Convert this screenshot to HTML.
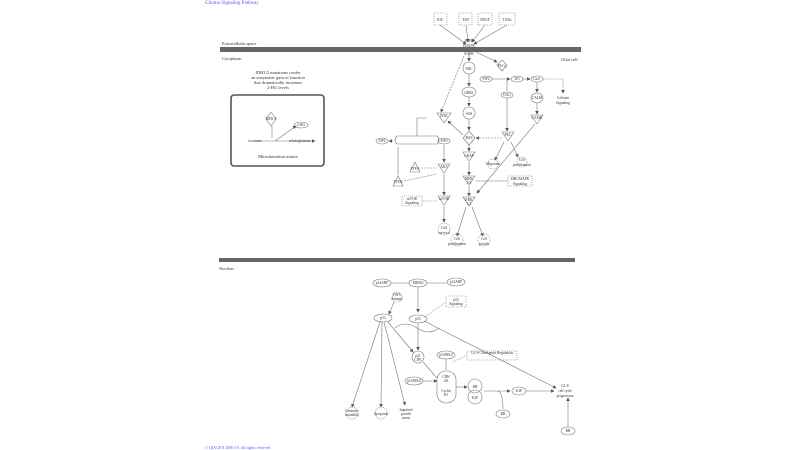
<!DOCTYPE html>
<html><head><meta charset="utf-8"><style>
html,body{margin:0;padding:0;background:#fff;width:800px;height:450px;overflow:hidden}
svg text{font-family:"Liberation Serif",serif;fill:#333}
</style></head><body>
<svg width="800" height="450" viewBox="0 0 800 450" xmlns="http://www.w3.org/2000/svg">
<defs><marker id="a" markerWidth="6" markerHeight="6" refX="5" refY="3" orient="auto"><path d="M0,0L6,3L0,6z" fill="#555"/></marker></defs>
<text x="205" y="4" font-size="5" style="fill:#55f">Glioma Signaling Pathway</text>
<text x="205" y="449" font-size="4" style="fill:#55f">© QIAGEN 2000-19. All rights reserved</text>
<rect x="220" y="47" width="361" height="5" fill="#666"/>
<rect x="219" y="258" width="356" height="4" fill="#666"/>
<g font-size="4.5">
<text x="222" y="45">Extracellular space</text>
<text x="222" y="60">Cytoplasm</text>
<text x="561" y="61">Glial cell</text>
<text x="219" y="270">Nucleus</text>
<text x="278" y="74" text-anchor="middle">IDH1/2 mutations confer</text>
<text x="278" y="79" text-anchor="middle">an enzymatic gain of function</text>
<text x="278" y="84" text-anchor="middle">that dramatically increases</text>
<text x="278" y="89" text-anchor="middle">2-HG levels</text>
<text x="278" y="158" text-anchor="middle">Mitochondrion matrix</text>
</g>
<rect x="231" y="95" width="93" height="71" rx="3" fill="none" stroke="#555" stroke-width="1.6"/>
<g fill="none" stroke="#777" stroke-width="0.6">
<path d="M271,112l5,7-5,7-5-7z"/><ellipse cx="301" cy="125" rx="7" ry="3"/>
<line x1="255" y1="141" x2="315" y2="141" marker-end="url(#a)"/><line x1="272" y1="126" x2="272" y2="138"/>
<line x1="275" y1="141" x2="296" y2="126" marker-end="url(#a)"/>
<!-- receptors -->
<rect x="434" y="13" width="13" height="12" stroke-dasharray="1,1"/><rect x="459" y="13" width="13" height="12" stroke-dasharray="1,1"/>
<rect x="478" y="13" width="14" height="12" stroke-dasharray="1,1"/><rect x="499" y="13" width="16" height="12" stroke-dasharray="1,1"/>
<line x1="440" y1="25" x2="466" y2="44" marker-end="url(#a)"/><line x1="466" y1="25" x2="468" y2="42" marker-end="url(#a)"/>
<line x1="485" y1="25" x2="472" y2="42" marker-end="url(#a)"/><line x1="507" y1="25" x2="474" y2="44" marker-end="url(#a)"/>
<ellipse cx="469" cy="68" rx="6" ry="6"/><line x1="469" y1="53" x2="469" y2="61" marker-end="url(#a)"/>
<ellipse cx="469" cy="92" rx="7" ry="5"/><line x1="469" y1="74" x2="469" y2="86" marker-end="url(#a)"/>
<ellipse cx="469" cy="113" rx="6" ry="6"/><line x1="469" y1="97" x2="469" y2="106" marker-end="url(#a)"/>
<path d="M469,131l6,7-6,7-6-7z"/><line x1="469" y1="119" x2="469" y2="130" marker-end="url(#a)"/>
<path d="M463,152h12l-6,9z"/><line x1="469" y1="145" x2="469" y2="151" marker-end="url(#a)"/>
<path d="M463,176h12l-6,9z"/><line x1="469" y1="162" x2="469" y2="175" marker-end="url(#a)"/>
<path d="M463,197h12l-6,9z"/><line x1="469" y1="186" x2="469" y2="196" marker-end="url(#a)"/>
<line x1="466" y1="207" x2="457" y2="236" marker-end="url(#a)"/><line x1="472" y1="207" x2="483" y2="236" marker-end="url(#a)"/>
<path d="M502,60l5,5-5,6-5-6z"/><line x1="474" y1="51" x2="497" y2="62" marker-end="url(#a)"/>
<ellipse cx="486" cy="79" rx="6" ry="3"/><ellipse cx="517" cy="79" rx="6" ry="3"/><ellipse cx="537" cy="79" rx="6" ry="3"/>
<line x1="492" y1="79" x2="510" y2="79" marker-end="url(#a)"/><line x1="523" y1="79" x2="530" y2="79" marker-end="url(#a)"/>
<line x1="543" y1="79" x2="563" y2="79" stroke-dasharray="1.5,1"/><line x1="563" y1="79" x2="563" y2="93" stroke-dasharray="1.5,1" marker-end="url(#a)"/>
<ellipse cx="507" cy="95" rx="6" ry="3"/><line x1="507" y1="79" x2="507" y2="91"/>
<ellipse cx="537" cy="98" rx="6" ry="5"/><line x1="537" y1="82" x2="537" y2="92" marker-end="url(#a)"/>
<path d="M531,115h12l-6,9z"/><line x1="537" y1="103" x2="537" y2="114" marker-end="url(#a)"/>
<path d="M502,132h12l-6,9z"/><line x1="507" y1="98" x2="507" y2="131" marker-end="url(#a)"/>
<line x1="502" y1="138" x2="476" y2="138" stroke-dasharray="2,1" marker-end="url(#a)"/>
<line x1="535" y1="124" x2="477" y2="193" marker-end="url(#a)"/>
<line x1="504" y1="142" x2="495" y2="160" marker-end="url(#a)"/><line x1="511" y1="142" x2="518" y2="157" marker-end="url(#a)"/>
<circle cx="493" cy="164" r="5" stroke-dasharray="1,1"/><circle cx="522" cy="162" r="5" stroke-dasharray="1,1"/>
<rect x="508" y="176" width="24" height="10" stroke-dasharray="1,1"/><line x1="475" y1="181" x2="508" y2="181"/>
<path d="M437,113h14l-7,10z"/><line x1="464" y1="56" x2="441" y2="112" stroke-dasharray="2,1" marker-end="url(#a)"/>
<line x1="463" y1="135" x2="448" y2="121" marker-end="url(#a)"/>
<path d="M427,118h-10v18" /><path d="M397,136h40q4,4 0,8h-40q-4,-4 0,-8z"/>
<ellipse cx="382" cy="141" rx="6" ry="3"/><ellipse cx="444" cy="141" rx="6" ry="3"/>
<line x1="393" y1="141" x2="389" y2="141" marker-end="url(#a)"/>
<line x1="444" y1="145" x2="444" y2="162" marker-end="url(#a)"/>
<path d="M438,164h12l-6,9z"/><path d="M438,196h12l-6,9z"/><line x1="444" y1="174" x2="444" y2="195" marker-end="url(#a)"/>
<line x1="444" y1="206" x2="444" y2="222" marker-end="url(#a)"/>
<circle cx="444" cy="229" r="6" stroke-dasharray="1,1"/><circle cx="457" cy="240" r="6" stroke-dasharray="1,1"/><circle cx="484" cy="240" r="6" stroke-dasharray="1,1"/>
<path d="M415,162l5,10h-10z"/><path d="M398,176l5,10h-10z"/>
<line x1="398" y1="147" x2="398" y2="175"/><line x1="421" y1="168" x2="437" y2="168" stroke-dasharray="2,1"/>
<line x1="404" y1="181" x2="437" y2="174" stroke-dasharray="2,1"/>
<rect x="402" y="196" width="20" height="10" stroke-dasharray="1,1"/><line x1="423" y1="201" x2="438" y2="201" stroke-dasharray="1.5,1"/>
<!-- nucleus -->
<ellipse cx="382" cy="283" rx="9" ry="4"/><ellipse cx="418" cy="283" rx="9" ry="4"/><ellipse cx="456" cy="282" rx="9" ry="4"/>
<line x1="391" y1="283" x2="409" y2="283"/><line x1="427" y1="283" x2="447" y2="283"/>
<line x1="418" y1="287" x2="418" y2="312" marker-end="url(#a)"/>
<circle cx="397" cy="297" r="5" stroke-dasharray="1,1"/><line x1="394" y1="302" x2="389" y2="314" marker-end="url(#a)"/>
<ellipse cx="383" cy="318" rx="9" ry="4"/><ellipse cx="418" cy="319" rx="9" ry="4"/>
<path d="M395,328q10,-8 22,0t22,0q-10,8 -22,0t-22,0"/>
<rect x="446" y="296" width="20" height="11" stroke-dasharray="1,1"/><line x1="425" y1="317" x2="446" y2="302" stroke-dasharray="1,1"/>
<line x1="418" y1="323" x2="418" y2="350" marker-end="url(#a)"/><line x1="388" y1="322" x2="413" y2="352" marker-end="url(#a)"/>
<ellipse cx="418" cy="357" rx="6" ry="6"/><ellipse cx="446" cy="355" rx="9" ry="4"/>
<ellipse cx="414" cy="381" rx="9" ry="4"/><rect x="437" y="371" width="19" height="32" rx="9"/>
<line x1="423" y1="381" x2="437" y2="381" marker-end="url(#a)"/><line x1="446" y1="359" x2="446" y2="370"/>
<line x1="423" y1="362" x2="437" y2="378"/>
<rect x="467" y="351" width="50" height="9" stroke-dasharray="1,1"/><line x1="453" y1="362" x2="467" y2="355" stroke-dasharray="1,1"/>
<circle cx="475" cy="386" r="7"/><circle cx="475" cy="397" r="7"/><line x1="456" y1="387" x2="467" y2="387" marker-end="url(#a)"/>
<line x1="484" y1="391" x2="510" y2="391" marker-end="url(#a)"/><path d="M497,391q6,0 6,18" /><ellipse cx="503" cy="414" rx="7" ry="4"/>
<ellipse cx="519" cy="391" rx="7" ry="4"/><line x1="526" y1="391" x2="554" y2="391" marker-end="url(#a)"/>
<line x1="424" y1="321" x2="556" y2="388" marker-end="url(#a)"/>
<ellipse cx="568" cy="431" rx="7" ry="4"/><line x1="568" y1="427" x2="568" y2="398" marker-end="url(#a)"/>
<line x1="380" y1="322" x2="352" y2="407" marker-end="url(#a)"/><line x1="382" y1="322" x2="381" y2="407" marker-end="url(#a)"/><line x1="384" y1="322" x2="405" y2="405" marker-end="url(#a)"/>
<circle cx="352" cy="413" r="6" stroke-dasharray="1,1"/><circle cx="381" cy="413" r="6" stroke-dasharray="1,1"/>
</g>
<g font-size="3.6" text-anchor="middle">
<text x="440" y="21">IGF</text><text x="466" y="21">EGF</text><text x="485" y="21">PDGF</text><text x="507" y="21">TGFα</text>
<text x="469" y="42">IGFR</text><text x="469" y="47">PDGFR</text><text x="469" y="55">EGFR</text>
<text x="469" y="70">SHC</text><text x="469" y="94">GRB2</text><text x="469" y="115">SOS</text><text x="469" y="139">RAS</text>
<text x="469" y="157">c-RAF</text><text x="469" y="180">MEK</text><text x="469" y="184">1/2</text><text x="469" y="201">ERK</text><text x="469" y="205">1/2</text>
<text x="502" y="67">PLCγ</text><text x="486" y="80">PIP2</text><text x="517" y="80">IP3</text><text x="537" y="80">Ca2+</text>
<text x="507" y="96">DAG</text><text x="537" y="99">CALM</text><text x="537" y="119">CAMK</text><text x="508" y="136">PKC</text>
<text x="563" y="99">Calcium</text><text x="563" y="104">Signaling</text>
<text x="493" y="165">Migration</text><text x="522" y="161">Cell</text><text x="522" y="166">proliferation</text>
<text x="520" y="180">ERK/MAPK</text><text x="520" y="185">Signaling</text>
<text x="444" y="117">PI3K</text><text x="382" y="142">PIP2</text><text x="444" y="142">PIP3</text>
<text x="444" y="168">AKT</text><text x="444" y="200">mTOR</text><text x="415" y="170">PTEN</text><text x="398" y="183">PTEN</text>
<text x="412" y="200">mTOR</text><text x="412" y="204">Signaling</text>
<text x="444" y="229">Cell</text><text x="444" y="234">survival</text><text x="457" y="240">Cell</text><text x="457" y="245">proliferation</text>
<text x="484" y="240">Cell</text><text x="484" y="245">growth</text>
<text x="271" y="120">IDH1/2</text><text x="301" y="126">2-HG</text><text x="255" y="142">isocitrate</text><text x="300" y="142">α-ketoglutarate</text>
<text x="382" y="284">p14ARF</text><text x="418" y="284">MDM2</text><text x="456" y="283">p14ARF</text>
<text x="397" y="296">DNA</text><text x="397" y="300">damage</text><text x="383" y="319">p53</text><text x="418" y="320">p53</text>
<text x="456" y="301">p53</text><text x="456" y="305">Signaling</text><text x="418" y="357">p21</text><text x="418" y="361">CIP1</text>
<text x="446" y="356">p16INK4</text><text x="414" y="382">p16INK4</text><text x="446" y="378">CDK</text><text x="446" y="382">4/6</text>
<text x="446" y="392">Cyclin</text><text x="446" y="396">D1</text>
<text x="492" y="354">G1/S Checkpoint Regulation</text><text x="475" y="388">RB</text><text x="475" y="399">E2F</text>
<text x="519" y="392">E2F</text><text x="503" y="415">RB</text><text x="568" y="432">RB</text>
<text x="565" y="387">G1/S</text><text x="565" y="392">cell cycle</text><text x="565" y="397">progression</text>
<text x="352" y="412">Genomic</text><text x="352" y="416">instability</text><text x="381" y="415">Apoptosis</text>
<text x="406" y="411">Impaired</text><text x="406" y="415">growth</text><text x="406" y="419">arrest</text>
</g>
</svg>
</body></html>
